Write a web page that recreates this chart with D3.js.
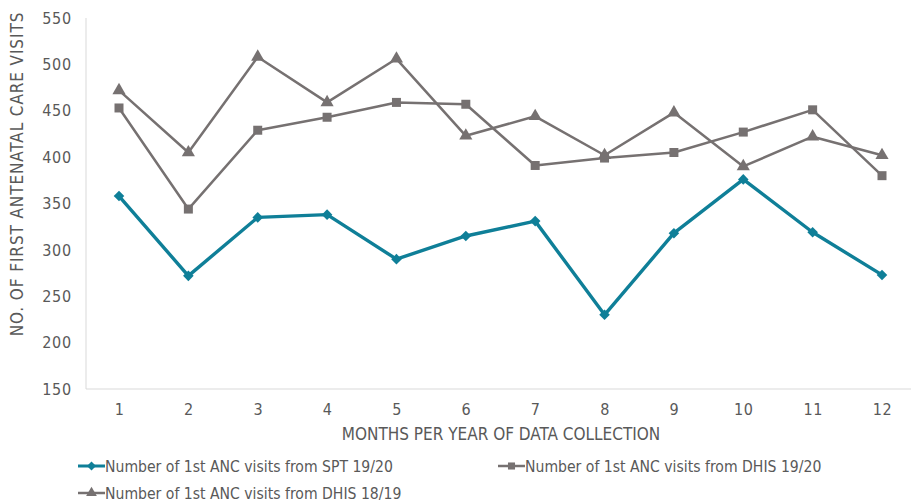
<!DOCTYPE html>
<html><head><meta charset="utf-8">
<script src="https://cdn.jsdelivr.net/npm/d3@7"></script>
<style>
body{margin:0;background:#fff;}
text{font-family:"DejaVu Sans Condensed","Liberation Sans Narrow",Lato,sans-serif;fill:#595959;}
</style></head>
<body><svg id="c" width="911" height="504"></svg>
<script>
const months = [1,2,3,4,5,6,7,8,9,10,11,12];
const spt1920 = [358, 272, 335, 338, 290, 315, 331, 230, 318, 376, 319, 273];
const dhis1920 = [453, 344, 429, 443, 459, 457, 391, 399, 405, 427, 451, 380];
const dhis1819 = [472, 405, 508, 459, 506, 423, 444, 402, 448, 390, 422, 402];
const yTicks = [150,200,250,300,350,400,450,500,550];
const seriesNames = ["Number of  1st ANC visits from SPT 19/20","Number of 1st ANC visits from DHIS 19/20","Number of 1st ANC visits from DHIS 18/19"];

const svg = d3.select("#c");
const x = d3.scalePoint().domain(months).range([119, 882]);
const y = d3.scaleLinear().domain([150,550]).range([389, 18]);

svg.append("line").attr("x1",86).attr("x2",86).attr("y1",18).attr("y2",389).attr("stroke","#d9d9d9").attr("stroke-width",1);
svg.append("line").attr("x1",86).attr("x2",911).attr("y1",389).attr("y2",389).attr("stroke","#d9d9d9").attr("stroke-width",1);

const yAxis = d3.axisLeft(y).tickValues(yTicks).tickSize(0).tickPadding(0);
const gy = svg.append("g").attr("transform","translate(72,0)").call(yAxis);
gy.select(".domain").remove();
gy.selectAll("text").style("font-size","16px").style("letter-spacing","0.8px").attr("fill","#595959");

const xAxis = d3.axisBottom(x).tickSize(0).tickPadding(0);
const gx = svg.append("g").attr("transform","translate(0,404)").call(xAxis);
gx.select(".domain").remove();
gx.selectAll("text").style("font-size","16px").style("letter-spacing","0.5px").attr("fill","#595959");

svg.append("text").attr("x",501).attr("y",440).attr("text-anchor","middle").style("font-size","17px").text("MONTHS PER YEAR OF DATA COLLECTION");
svg.append("text").attr("transform","translate(23,174) rotate(-90)").attr("text-anchor","middle").style("font-size","17px").style("letter-spacing","0.9px").text("NO. OF FIRST ANTENATAL CARE VISITS");

const teal = "#0f7f98", gray = "#767171";
const line = d3.line().x((d,i)=>x(months[i])).y(d=>y(d));
const sym = {
  diamond: d3.symbol().type(d3.symbolSquare).size(56),
  square: d3.symbol().type(d3.symbolSquare).size(81),
  triangle: d3.symbol().type(d3.symbolTriangle).size(75)
};
const rot = {diamond:45, square:0, triangle:0};
const series = [
  {data:dhis1819, color:gray, w:2.5, s:"triangle"},
  {data:dhis1920, color:gray, w:2.5, s:"square"},
  {data:spt1920, color:teal, w:3.4, s:"diamond"}
];
series.forEach(se=>{
  svg.append("path").datum(se.data).attr("d",line).attr("fill","none").attr("stroke",se.color).attr("stroke-width",se.w).attr("stroke-linejoin","round");
  svg.selectAll(null).data(se.data).enter().append("path")
    .attr("d",sym[se.s]).attr("transform",(d,i)=>`translate(${x(months[i])},${y(d)}) rotate(${rot[se.s]})`).attr("fill",se.color);
});

const leg = [
  {name:seriesNames[0], color:teal, s:"diamond", x:78, y:466, w:3},
  {name:seriesNames[1], color:gray, s:"square", x:498, y:466, w:2.5},
  {name:seriesNames[2], color:gray, s:"triangle", x:78, y:493, w:2.5}
];
leg.forEach(l=>{
  const g = svg.append("g").attr("transform",`translate(${l.x},${l.y})`);
  g.append("line").attr("x1",0).attr("x2",27).attr("stroke",l.color).attr("stroke-width",l.w);
  g.append("path").attr("d",d3.symbol().type(l.s==="triangle"?d3.symbolTriangle:d3.symbolSquare).size(l.s==="diamond"?40:50)).attr("transform",`translate(13.5,0) rotate(${rot[l.s]})`).attr("fill",l.color);
  g.append("text").attr("x",27).attr("y",5.5).style("font-size","15.6px").text(l.name);
});
</script></body></html>
